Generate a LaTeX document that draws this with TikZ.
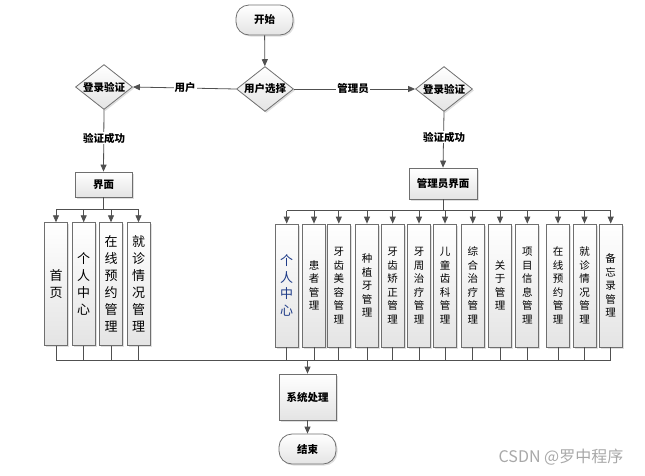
\documentclass[tikz,border=0pt]{standalone}
\usepackage{fontspec}
\setmainfont{Noto Sans CJK SC}
\usetikzlibrary{shapes.geometric,shadows,arrows.meta}
\definecolor{boxline}{HTML}{6F6F6F}
\definecolor{boxbot}{HTML}{E4E4E4}
\definecolor{lineclr}{HTML}{505050}
\definecolor{wmark}{HTML}{A8A8A8}
\definecolor{navy}{HTML}{1F3C88}
\begin{document}
\begin{tikzpicture}[x=1pt,y=-1pt,
  every node/.style={font=\fontsize{10.5}{12}\selectfont},
  shd/.style={drop shadow={opacity=0.25,shadow xshift=1.5pt,shadow yshift=-1.5pt}},
  box/.style={draw=boxline, line width=0.8pt, top color=white, bottom color=boxbot, shd, inner sep=0pt,
    font=\bfseries\fontsize{10.5}{12}\selectfont},
  term/.style={box, rounded corners=13pt, minimum width=57pt, minimum height=30pt},
  dia/.style={box, diamond, minimum width=57pt, minimum height=45pt},
  tall/.style={draw=boxline, line width=0.8pt, top color=white, bottom color=boxbot, shd,
    minimum width=23pt, minimum height=123pt, inner sep=0pt, align=center},
  big/.style={font=\fontsize{13}{17}\selectfont},
  small/.style={font=\fontsize{10.5}{13.5}\selectfont},
  conn/.style={draw=lineclr, line width=0.8pt},
  arr/.style={conn, -{Triangle[length=7pt,width=6pt]}},
  lab/.style={fill=white, inner sep=1pt, font=\bfseries\fontsize{10.5}{12}\selectfont}
]
\useasboundingbox (0,0) rectangle (645,475);

% main nodes
\node[term] (start) at (264.5,20) {开始};
\node[dia, label={[font=\bfseries\fontsize{10.5}{12}\selectfont]center:用户选择}] (choose) at (265,89) {};
\node[dia, label={[font=\bfseries\fontsize{10.5}{12}\selectfont]center:登录验证}] (loginL) at (104,87) {};
\node[dia, label={[font=\bfseries\fontsize{10.5}{12}\selectfont]center:登录验证}] (loginR) at (444,89) {};
\node[box, minimum width=57pt, minimum height=25pt] (uiL) at (103.5,184.5) {界面};
\node[box, minimum width=68pt, minimum height=31pt] (uiR) at (443,183.5) {管理员界面};
\node[box, minimum width=57pt, minimum height=46pt] (sys) at (307.5,397) {系统处理};
\node[term] (end) at (307.5,449) {结束};

% left tall boxes
\node[tall, big] (L1) at (56,284.2) {首\\页};
\node[tall, big] (L2) at (83.7,284.2) {个\\人\\中\\心};
\node[tall, big] (L3) at (111,284.2) {在\\线\\预\\约\\管\\理};
\node[tall, big] (L4) at (138.5,284.2) {就\\诊\\情\\况\\管\\理};

% right tall boxes
\node[tall, text=navy, font=\fontsize{13}{16.5}\selectfont] (R1) at (286.7,285.5) {个\\人\\中\\心};
\node[tall, small] (R2) at (314,285.5) {患\\者\\管\\理};
\node[tall, small] (R3) at (338.8,285.5) {牙\\齿\\美\\容\\管\\理};
\node[tall, small] (R4) at (367,285.5) {种\\植\\牙\\管\\理};
\node[tall, small] (R5) at (392.7,285.5) {牙\\齿\\矫\\正\\管\\理};
\node[tall, small] (R6) at (419,285.5) {牙\\周\\治\\疗\\管\\理};
\node[tall, small] (R7) at (445,285.5) {儿\\童\\齿\\科\\管\\理};
\node[tall, small] (R8) at (472.8,285.5) {综\\合\\治\\疗\\管\\理};
\node[tall, small] (R9) at (500,285.5) {关\\于\\管\\理};
\node[tall, small] (R10) at (527.3,285.5) {项\\目\\信\\息\\管\\理};
\node[tall, small] (R11) at (558,285.5) {在\\线\\预\\约\\管\\理};
\node[tall, small] (R12) at (584.5,285.5) {就\\诊\\情\\况\\管\\理};
\node[tall, small] (R13) at (610.7,285.5) {备\\忘\\录\\管\\理};

% bus coordinates
\coordinate (tbL) at (103.5,209);
\coordinate (tbR) at (443,210.5);
\coordinate (bb) at (307.5,360);

% connectors
\draw[arr] (start) -- (choose);
\draw[arr] (choose.west) -- (loginL.east);
\node[lab] (labU) at (185,88) {用户};
\draw[arr] (choose.east) -- (loginR.west);
\node[lab] (labA) at (353,89) {管理员};
\draw[arr] (loginL.south) -- (uiL.north);
\node[lab] (labL) at (104,138) {验证成功};
\draw[arr] (loginR.south) -- (uiR.north);
\node[lab] (labR) at (444,137) {验证成功};

% left top bus
\draw[conn] (uiL.south) -- (tbL);
\draw[conn] (L1.north |- tbL) -- (L4.north |- tbL);
\foreach \n in {L1,L2,L3,L4} \draw[arr] (\n.north |- tbL) -- (\n.north);
% right top bus
\draw[conn] (uiR.south) -- (tbR);
\draw[conn] (R1.north |- tbR) -- (R13.north |- tbR);
\foreach \n in {R1,R2,R3,R4,R5,R6,R7,R8,R9,R10,R11,R12,R13} \draw[arr] (\n.north |- tbR) -- (\n.north);

% bottom bus
\foreach \n in {L1,L2,L3,L4,R1,R2,R3,R4,R5,R6,R7,R8,R9,R10,R11,R12,R13} \draw[conn] (\n.south) -- (\n.south |- bb);
\draw[conn] (L1.south |- bb) -- (R13.south |- bb);
\draw[arr] (bb) -- (sys.north);
\draw[arr] (sys) -- (end);

% watermark
\node[text=wmark, font=\fontsize{16}{18}\selectfont] (wm) at (561,457) {CSDN @罗中程序};
\end{tikzpicture}
\end{document}
